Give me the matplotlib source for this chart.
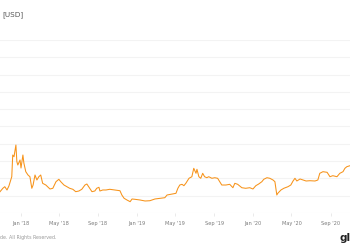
import numpy as np
import matplotlib
matplotlib.use('Agg')
import matplotlib.pyplot as plt

# BTC price (USD)
Dates = ['2017-10-28', '2017-11-06', '2017-11-12', '2017-11-19', '2017-11-25', '2017-12-04',
         '2017-12-07', '2017-12-11', '2017-12-17', '2017-12-20', '2017-12-23', '2017-12-30',
         '2018-01-02', '2018-01-08', '2018-01-11', '2018-01-17', '2018-01-24', '2018-01-30',
         '2018-02-05', '2018-02-09', '2018-02-15', '2018-02-21', '2018-02-27', '2018-03-05',
         '2018-03-11', '2018-03-21', '2018-04-03', '2018-04-12', '2018-04-22', '2018-05-01',
         '2018-05-07', '2018-05-17', '2018-05-26', '2018-06-04', '2018-06-14', '2018-06-23',
         '2018-07-03', '2018-07-12', '2018-07-22', '2018-07-28', '2018-08-06', '2018-08-13',
         '2018-08-22', '2018-08-28', '2018-09-04', '2018-09-07', '2018-09-16', '2018-09-26',
         '2018-10-08', '2018-10-24', '2018-11-09', '2018-11-15', '2018-11-22', '2018-12-01',
         '2018-12-11', '2018-12-17', '2018-12-26', '2019-01-11', '2019-01-27', '2019-02-11',
         '2019-02-27', '2019-03-15', '2019-03-30', '2019-04-06', '2019-04-15', '2019-04-24',
         '2019-05-04', '2019-05-10', '2019-05-16', '2019-05-23', '2019-05-29', '2019-06-04',
         '2019-06-14', '2019-06-23', '2019-06-29', '2019-07-06', '2019-07-09', '2019-07-15',
         '2019-07-21', '2019-07-27', '2019-08-02', '2019-08-09', '2019-08-15', '2019-08-25',
         '2019-09-03', '2019-09-12', '2019-09-25', '2019-10-08', '2019-10-20', '2019-10-30',
         '2019-11-05', '2019-11-14', '2019-11-27', '2019-12-09', '2019-12-22', '2020-01-01',
         '2020-01-10', '2020-01-19', '2020-01-29', '2020-02-04', '2020-02-14', '2020-02-23',
         '2020-03-04', '2020-03-10', '2020-03-13', '2020-03-16', '2020-03-19', '2020-03-29',
         '2020-04-07', '2020-04-20', '2020-04-29', '2020-05-06', '2020-05-12', '2020-05-18',
         '2020-05-28', '2020-06-06', '2020-06-16', '2020-06-28', '2020-07-14', '2020-07-23',
         '2020-07-29', '2020-08-08', '2020-08-21', '2020-08-30', '2020-09-08', '2020-09-21',
         '2020-09-30', '2020-10-10', '2020-10-16', '2020-10-22', '2020-11-01']
Price = [6150, 7140, 7600, 6650, 7800, 10500,
         16760, 16270, 19650, 14830, 13870, 15320,
         13000, 16760, 14450, 11940, 10980, 10490,
         7140, 8090, 10980, 9540, 10490, 10980,
         8580, 8090, 6940, 7140, 9050, 9740,
         9050, 8090, 7600, 7140, 6850, 6160,
         6360, 6850, 8090, 8380, 7140, 6160,
         6360, 7140, 7430, 6360, 6650, 6650,
         6850, 6650, 6440, 5200, 4250, 3760,
         3270, 4050, 3960, 3760, 3470, 3550,
         4050, 4250, 4420, 5200, 5350, 5490,
         5690, 7140, 8090, 8290, 7890, 8580,
         10030, 10490, 12920, 11470, 12630, 10490,
         10030, 11470, 10490, 10200, 10490, 10030,
         10200, 10030, 8090, 8090, 8290, 7310,
         8580, 8290, 7310, 7140, 7310, 6940,
         7890, 8380, 9050, 9740, 10200, 10030,
         9540, 9050, 7140, 5200, 5690, 6650,
         7140, 7600, 8090, 9250, 10030, 9250,
         9830, 9540, 9250, 9330, 9250, 9540,
         11470, 11940, 11760, 10490, 10780, 10490,
         11470, 11940, 12920, 13380, 13670]
TickDates = ['2018-01-01', '2018-05-01', '2018-09-01', '2019-01-01', '2019-05-01',
             '2019-09-01', '2020-01-01', '2020-05-01', '2020-09-01']
TickLabels = ["Jan '18", "May '18", "Sep '18", "Jan '19", "May '19",
              "Sep '19", "Jan '20", "May '20", "Sep '20"]
YTicks = [0, 5000, 10000, 15000, 20000, 25000, 30000, 35000, 40000, 45000, 50000]

fig = plt.figure(figsize=(3.5, 2.5), dpi=100)
ax = fig.add_axes([0, 37/250, 1, 173/250])
ax.plot(np.array(Dates, dtype='datetime64[D]'), Price, color='#f7931a', lw=0.75)
ax.set_xlim(np.datetime64('2017-10-28'), np.datetime64('2020-11-01'))
ax.set_ylim(0, 50000)
ax.set_yticks(YTicks)
ax.set_yticklabels([])
ax.tick_params(axis='y', length=0)
ax.grid(axis='y', color='#f3f3f3', lw=0.8)
ax.set_axisbelow(True)
for s in ax.spines.values():
    s.set_visible(False)
ax.set_xticks(np.array(TickDates, dtype='datetime64[D]'))
ax.set_xticklabels(TickLabels)
ax.tick_params(axis='x', length=2, width=0.6, color='#e6e6e6', labelsize=3.6,
               labelcolor='#7a7a7a', pad=3.5)

fig.text(2/350, 1-15/250, '[USD]', fontsize=5.2, color='#555555', va='center')
fig.text(0, 1-238/250, 'de. All Rights Reserved.', fontsize=3.4, color='#9a9a9a', va='center')
fig.text(339/350, 1-238/250, 'gl', fontsize=7.5, weight='bold', color='#222222', va='center')
fig.savefig('out.png', dpi=100)
